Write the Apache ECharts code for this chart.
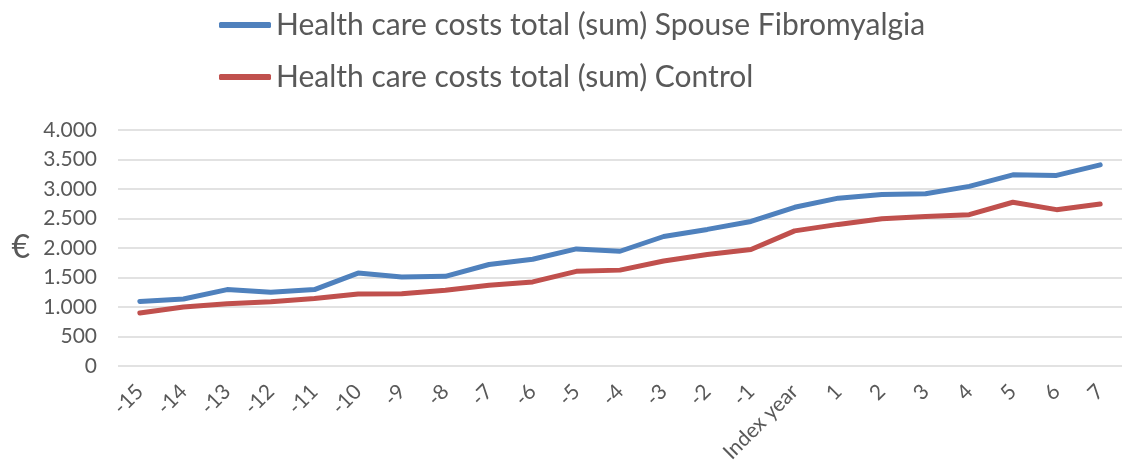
<!DOCTYPE html>
<html>
<head>
<meta charset="utf-8">
<title>Health care costs</title>
<script src="https://cdn.jsdelivr.net/npm/echarts@6/dist/echarts.min.js"></script>
<style>
  html, body { margin: 0; padding: 0; background: #fff; }
  #chart { width: 1122px; height: 468px; }
</style>
</head>
<body>
<div id="chart"></div>
<script>
// categories on the x axis (years relative to index year)
var years = ['-15', '-14', '-13', '-12', '-11', '-10', '-9', '-8', '-7', '-6', '-5', '-4',
             '-3', '-2', '-1', 'Index year', '1', '2', '3', '4', '5', '6', '7'];

// costs in euro
var spouseFibro = [1095, 1135, 1295, 1250, 1295, 1575, 1510, 1520, 1720, 1810, 1985, 1945,
                   2195, 2315, 2450, 2690, 2845, 2905, 2920, 3045, 3240, 3230, 3410];
var control = [900, 1000, 1055, 1090, 1145, 1220, 1225, 1285, 1370, 1425, 1605, 1625,
               1780, 1890, 1975, 2290, 2400, 2495, 2535, 2565, 2775, 2650, 2745];

var seriesNames = ['Health care costs total (sum) Spouse Fibromyalgia',
                   'Health care costs total (sum) Control'];

var chart = echarts.init(document.getElementById('chart'));

// dot as thousands separator, like the original
function fmt(v) {
    return String(v).replace(/\B(?=(\d{3})+(?!\d))/g, '.');
}

chart.setOption({
    animation: false,
    textStyle: { fontFamily: 'Lato, "Open Sans", sans-serif' },
    legend: {
        orient: 'vertical',
        left: 214,
        top: 5,
        itemGap: 22,
        itemWidth: 52,
        itemHeight: 6,
        icon: 'roundRect',
        data: seriesNames,
        textStyle: { fontSize: 30, color: '#595959', fontFamily: 'Lato, sans-serif' }
    },
    grid: { left: 118, width: 1010, top: 130, bottom: 102 },
    xAxis: {
        type: 'category',
        data: years,
        boundaryGap: true,
        axisLine: { show: false },
        axisTick: { show: false },
        axisLabel: { rotate: 45, fontSize: 21, color: '#595959', margin: 22, interval: 0 }
    },
    yAxis: {
        type: 'value',
        min: 0,
        max: 4000,
        interval: 500,
        name: '€',
        nameLocation: 'middle',
        nameRotate: 0,
        nameGap: 88,
        nameTextStyle: { fontSize: 32, color: '#595959' },
        axisLabel: { fontSize: 21, color: '#595959', margin: 21, formatter: fmt },
        splitLine: { lineStyle: { color: '#d9d9d9', width: 1.5 } }
    },
    series: [
        {
            name: seriesNames[0],
            type: 'line',
            data: spouseFibro,
            showSymbol: false,
            lineStyle: { color: '#4f81bd', width: 5, cap: 'round' },
            itemStyle: { color: '#4f81bd' }
        },
        {
            name: seriesNames[1],
            type: 'line',
            data: control,
            showSymbol: false,
            lineStyle: { color: '#c0504d', width: 5, cap: 'round' },
            itemStyle: { color: '#c0504d' }
        }
    ]
});
</script>
</body>
</html>
